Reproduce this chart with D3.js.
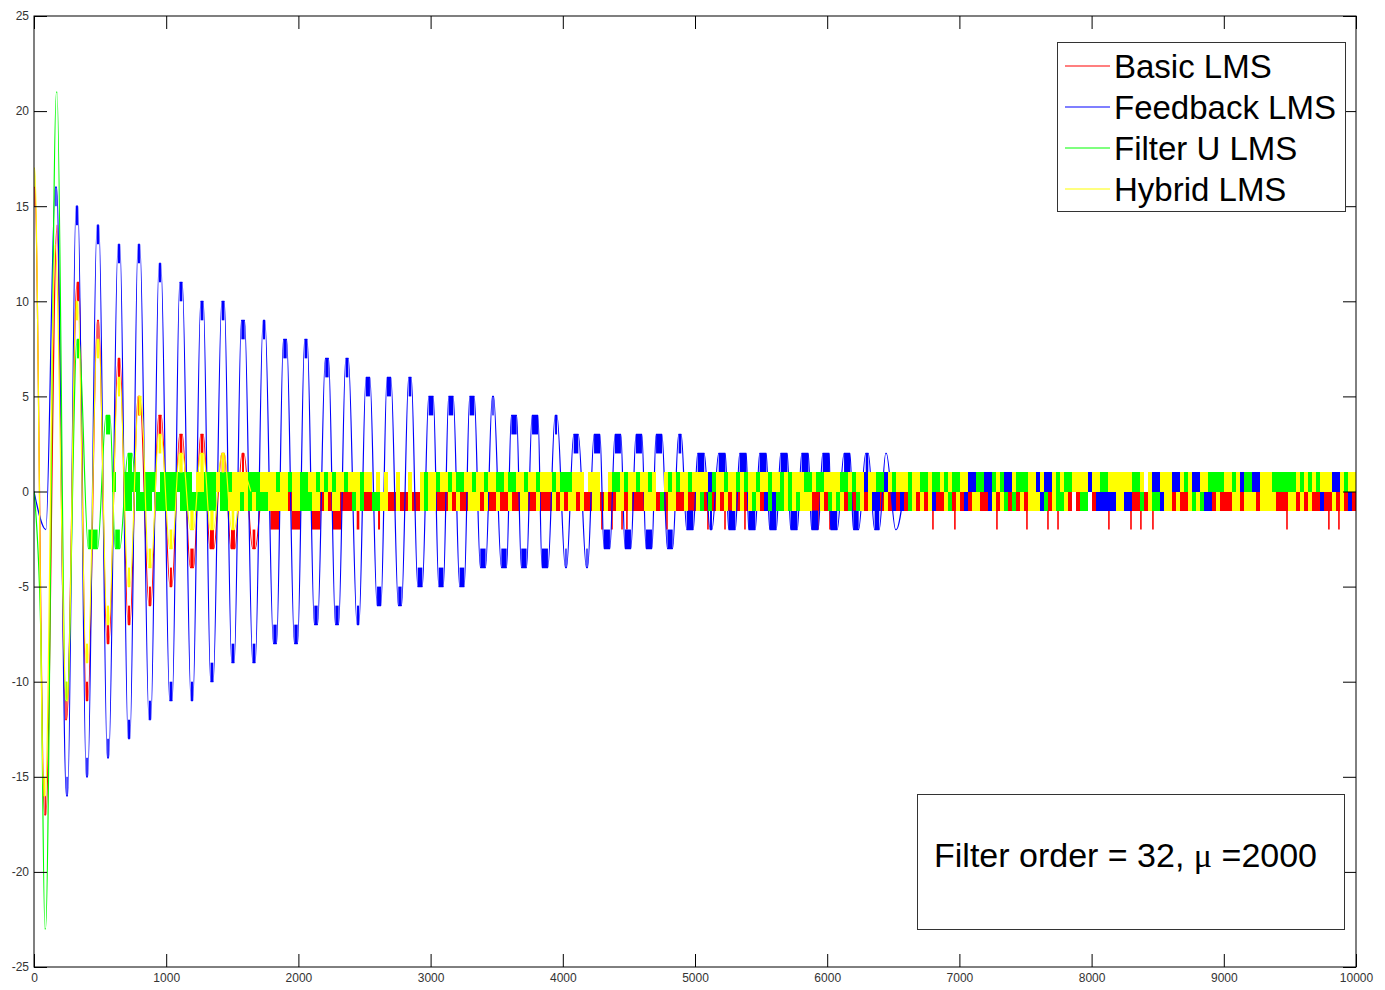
<!DOCTYPE html>
<html><head><meta charset="utf-8">
<script src="https://cdn.jsdelivr.net/npm/d3@7"></script>
<style>
body{margin:0;background:#fff;}
svg{display:block;}
text{font-family:"Liberation Sans",Arial,sans-serif;}
</style>
</head><body>
<svg id="chart" width="1385" height="990"></svg>
<script>
// ---------------- DATA ----------------
const seriesNames = ["Basic LMS", "Feedback LMS", "Filter U LMS", "Hybrid LMS"];
const xTicks = [0, 1000, 2000, 3000, 4000, 5000, 6000, 7000, 8000, 9000, 10000];
const yTicks = [-25, -20, -15, -10, -5, 0, 5, 10, 15, 20, 25];
const annotationText = "Filter order = 32, ";
const annotationMu = "\u03bc";
const annotationTail = " =2000";

// extremes of each error signal: [sample, level, hold duration in samples]
const basicExtremes = [[0,16,10],[85,-17,10],[174,14,0],[242,-12,10],[333,11,15],[401,-11,15],[484,9,10],[560,-8,15],[643,7,15],[719,-7,15],[794,5,15],[877,-6,15],[953,4,20],[1036,-5,15],[1112,3,20],[1195,-4,25],[1271,3,20],[1346,-3,30],[1430,2,20],[1505,-3,30],[1581,2,15],[1664,-3,20],[1740,1,0],[1790,0,0]];

const feedbackExtremes = [[0,0,0],[90,-2,0],[166,16,10],[250,-16,10],[325,15,15],[401,-15,12],[484,14,15],[560,-14,12],[643,13,15],[719,-13,15],[794,13,15],[877,-12,15],[953,12,15],[1036,-11,20],[1112,11,20],[1195,-11,15],[1271,10,20],[1346,-10,20],[1430,10,20],[1505,-9,20],[1581,9,25],[1664,-9,20],[1740,9,15],[1823,-8,25],[1899,8,25],[1982,-8,25],[2057,8,20],[2133,-7,25],[2216,7,25],[2292,-7,25],[2368,7,20],[2451,-7,15],[2526,6,30],[2610,-6,30],[2685,6,30],[2768,-6,25],[2844,6,20],[2920,-5,35],[3003,5,35],[3079,-5,35],[3154,5,35],[3237,-5,35],[3313,5,35],[3396,-4,40],[3472,5,10],[3555,-4,40],[3631,4,40],[3706,-4,40],[3790,4,45],[3865,-4,45],[3949,4,15],[4024,-4,10],[4100,3,35],[4183,-4,10],[4259,3,45],[4334,-3,45],[4417,3,45],[4493,-3,45],[4576,3,45],[4652,-3,45],[4728,3,45],[4811,-3,40],[4886,3,20],[4962,-2,50],[5045,2,50],[5121,-2,15],[5204,2,50],[5280,-2,50],[5363,2,50],[5431,-2,50],[5514,2,50],[5590,-2,50],[5673,2,50],[5749,-2,50],[5832,2,50],[5907,-2,50],[5991,2,50],[6051,-2,50],[6150,2,45],[6218,-2,40],[6301,2,20],[6376,-2,35],[6445,2,5],[6520,-2,5],[6580,0,0]];

const filterUExtremes = [[0,0,0],[50,-7,0],[85,-23,5],[172,21,5],[245,-11,10],[333,8,15],[446,-3,70],[560,4,30],[632,-3,35],[726,2,30],[770,0,0]];

const hybridExtremes = [[0,17,10],[80,-16,10],[160,13,0],[250,-11,10],[325,10,15],[401,-9,15],[484,8,15],[560,-7,15],[643,6,15],[719,-5,15],[801,5,20],[877,-4,20],[953,3,20],[1036,-3,20],[1112,2,25],[1195,-2,25],[1271,2,25],[1346,-2,25],[1430,2,20],[1505,-2,20],[1581,1,0],[1640,0,0]];

// Basic LMS dips to -2 (toggling between -1 and -2): [sample, duration]
const basicDips = [[1823,70],[1982,70],[2133,70],[2292,70],[2451,20],[2610,15]];
// Basic LMS single spikes down to -2
const basicSpikes = [4296,4372,4448,4485,4788,5098,5227,5378,5930,6021,6800,6966,7284,7511,7670,7746,8131,8298,8373,8464,9478,9795,9871];

// Steady-state toggling inside the +-1 band, read in steps of bandBin samples.
// Code letter = series visible on top: R = Basic, B = Feedback, G = Filter U, Y = Hybrid, . = none
const bandBin = 30.26;
const upperBand = [
  [499, "...G..GGGG.GGG.GGGGGGGG.YYGGGYGGGYYYYGGGYYYYGYYGYYGGYYGYGYGYYGYYYGYY.Y.Y..Y..Y.."],
  [2920, "YGYYGYYGYGGYYGYYGYYGGYGGYYGYYGYYYGYGGGYYY.YYY..YGGYGYYGYYGY..YGYGYYGYYYYBGYYGYYG"],
  [5340, "YGYYGYYGYYGYGYYYGGYGGYYYYGGYGYYBYYGGBYGYYYGYYGGYGGYGYGGYYBBGGBBGYGBBYGGGYYB"],
  [7609, "YBBYGYGGYYYYBYYGGYYYYYYGGY.YBBYYYBBYGYBBYYGGGGYYGYBGGBBYYYGGGGGGYGYGYGYYYBBYGYYY"]
];
const lowerBand = [
  [499, "......GG.GGGG.GGGGG.GGGGGGGGG.GGYYYGYGYGGGYYYYYRYYGGGYYRYRYYRRRGYGRRGGYYRRYRRYRR"],
  [2920, "YGYYRRRYRYRRYYYRYRRYRRYRRYYRRYRRRYRYRYYRYRRYYRYRRYYRYRRRYYYRGRYYRRYRRYGRGRYRYRYR"],
  [5340, "YRYGYRBGBGGYGYGYYYRRYRGYGYRGRGYRYBBRYRBRBRGYRYRYBRRYGRYRBRYYRRBYRYGRGRYRYYY"],
  [7609, "BGRYGGYR.RGG.RBBBBBYYBBRRGRYGGBYYRYRRYGYGBBRYRRRYYRYYYRYYYYRRRYYRYRYRRBRRYRYRBRB"]
];
const seriesCodes = ["R", "B", "G", "Y"];

// ---------------- STYLE ----------------
const colors = ["#ff0000", "#0000ff", "#00ff00", "#ffff00"];
const W = 1385, H = 990;
const plot = {left: 34, right: 1356, top: 16, bottom: 967};

const svg = d3.select("#chart");
svg.append("rect").attr("width", W).attr("height", H).attr("fill", "#fff");

const x = d3.scaleLinear().domain([0, 10000]).range([plot.left, plot.right]);
const y = d3.scaleLinear().domain([-25, 25]).range([plot.bottom, plot.top]);

svg.append("defs").append("clipPath").attr("id", "clip")
  .append("rect").attr("x", plot.left).attr("y", plot.top)
  .attr("width", plot.right - plot.left).attr("height", plot.bottom - plot.top);

const g = svg.append("g").attr("clip-path", "url(#clip)");

const line = d3.line().x(d => x(d[0])).y(d => y(d[1])).curve(d3.curveMonotoneX);

function pointsOf(ext) {
  const pts = [];
  ext.forEach(([s, v, h]) => {
    if (h > 0) { pts.push([s - h / 2, v]); pts.push([s + h / 2, v]); }
    else pts.push([s, v]);
  });
  return pts;
}

const allExtremes = [basicExtremes, feedbackExtremes, filterUExtremes, hybridExtremes];

seriesCodes.forEach((code, i) => {
  const sg = g.append("g");
  // band toggling
  [[upperBand, 1, 0], [lowerBand, 0, -1]].forEach(([band, hi, lo]) => {
    band.forEach(([s0, codes]) => {
      const segs = [];
      for (let j = 0; j < codes.length; j++) {
        if (codes[j] === code) {
          const a = s0 + j * bandBin, b = a + bandBin;
          if (segs.length && Math.abs(segs[segs.length - 1][1] - a) < 1e-6) segs[segs.length - 1][1] = b;
          else segs.push([a, b]);
        }
      }
      sg.selectAll(null).data(segs).enter().append("rect")
        .attr("x", d => x(d[0]))
        .attr("width", d => x(d[1]) - x(d[0]))
        .attr("y", y(hi))
        .attr("height", y(lo) - y(hi))
        .attr("fill", colors[i])
        .attr("shape-rendering", "crispEdges");
    });
  });
  // blocks at extremes (fast toggling between two adjacent levels)
  const ext = allExtremes[i].filter(d => d[2] > 5 && d[1] !== 0);
  sg.selectAll(null).data(ext).enter().append("rect")
    .attr("x", d => x(d[0] - d[2] / 2))
    .attr("width", d => x(d[0] + d[2] / 2) - x(d[0] - d[2] / 2))
    .attr("y", d => y(Math.max(d[1], d[1] - Math.sign(d[1]))))
    .attr("height", d => Math.abs(y(d[1]) - y(d[1] - Math.sign(d[1]))))
    .attr("fill", colors[i]);
  if (i === 0) {
    sg.selectAll(null).data(basicDips).enter().append("rect")
      .attr("x", d => x(d[0] - d[1] / 2))
      .attr("width", d => x(d[0] + d[1] / 2) - x(d[0] - d[1] / 2))
      .attr("y", y(-1)).attr("height", y(-2) - y(-1))
      .attr("fill", colors[0]);
    sg.selectAll(null).data(basicSpikes).enter().append("line")
      .attr("x1", d => x(d)).attr("x2", d => x(d))
      .attr("y1", y(-1)).attr("y2", y(-2))
      .attr("stroke", colors[0]).attr("stroke-width", 1.6);
  }
  sg.append("path").datum(pointsOf(allExtremes[i]))
    .attr("d", line).attr("fill", "none")
    .attr("stroke", colors[i]).attr("stroke-width", 1.2);
});

// ---------------- AXES ----------------
const fmt = d => String(d);
const axB = svg.append("g").attr("transform", `translate(0,${plot.bottom})`)
  .call(d3.axisBottom(x).tickValues(xTicks).tickFormat(fmt).tickSizeInner(-13).tickSizeOuter(0).tickPadding(6));
const axL = svg.append("g").attr("transform", `translate(${plot.left},0)`)
  .call(d3.axisLeft(y).tickValues(yTicks).tickFormat(fmt).tickSizeInner(-13).tickSizeOuter(0).tickPadding(5));
const axT = svg.append("g").attr("transform", `translate(0,${plot.top})`)
  .call(d3.axisTop(x).tickValues(xTicks).tickFormat("").tickSizeInner(-13).tickSizeOuter(0));
const axR = svg.append("g").attr("transform", `translate(${plot.right},0)`)
  .call(d3.axisRight(y).tickValues(yTicks).tickFormat("").tickSizeInner(-13).tickSizeOuter(0));
[axB, axL, axT, axR].forEach(a => {
  a.selectAll(".domain").remove();
  a.selectAll(".tick line").attr("stroke", "#000");
  a.selectAll(".tick text").attr("fill", "#333").style("font-size", "12px")
    .style("font-family", '"Liberation Sans", Arial, sans-serif');
});
svg.append("rect").attr("x", plot.left).attr("y", plot.top)
  .attr("width", plot.right - plot.left).attr("height", plot.bottom - plot.top)
  .attr("fill", "none").attr("stroke", "#000").attr("stroke-width", 1);

// ---------------- LEGEND ----------------
const lg = svg.append("g");
lg.append("rect").attr("x", 1057.5).attr("y", 42.5).attr("width", 288).attr("height", 169)
  .attr("fill", "#fff").attr("stroke", "#333");
seriesNames.forEach((name, i) => {
  const cy = 66 + i * 41;
  lg.append("line").attr("x1", 1065).attr("x2", 1110).attr("y1", cy).attr("y2", cy)
    .attr("stroke", colors[i]).attr("stroke-width", 1.2);
  lg.append("text").attr("x", 1114).attr("y", cy + 11.5).text(name)
    .style("font-size", "33px").attr("fill", "#000");
});

// ---------------- ANNOTATION ----------------
const an = svg.append("g");
an.append("rect").attr("x", 917.5).attr("y", 794.5).attr("width", 427).attr("height", 135)
  .attr("fill", "#fff").attr("stroke", "#333");
const t = an.append("text").attr("x", 934).attr("y", 867).style("font-size", "34px").attr("fill", "#000");
t.append("tspan").text(annotationText);
t.append("tspan").text(annotationMu).style("font-family", '"Liberation Serif", "DejaVu Serif", serif');
t.append("tspan").text(annotationTail);
</script>
</body></html>
